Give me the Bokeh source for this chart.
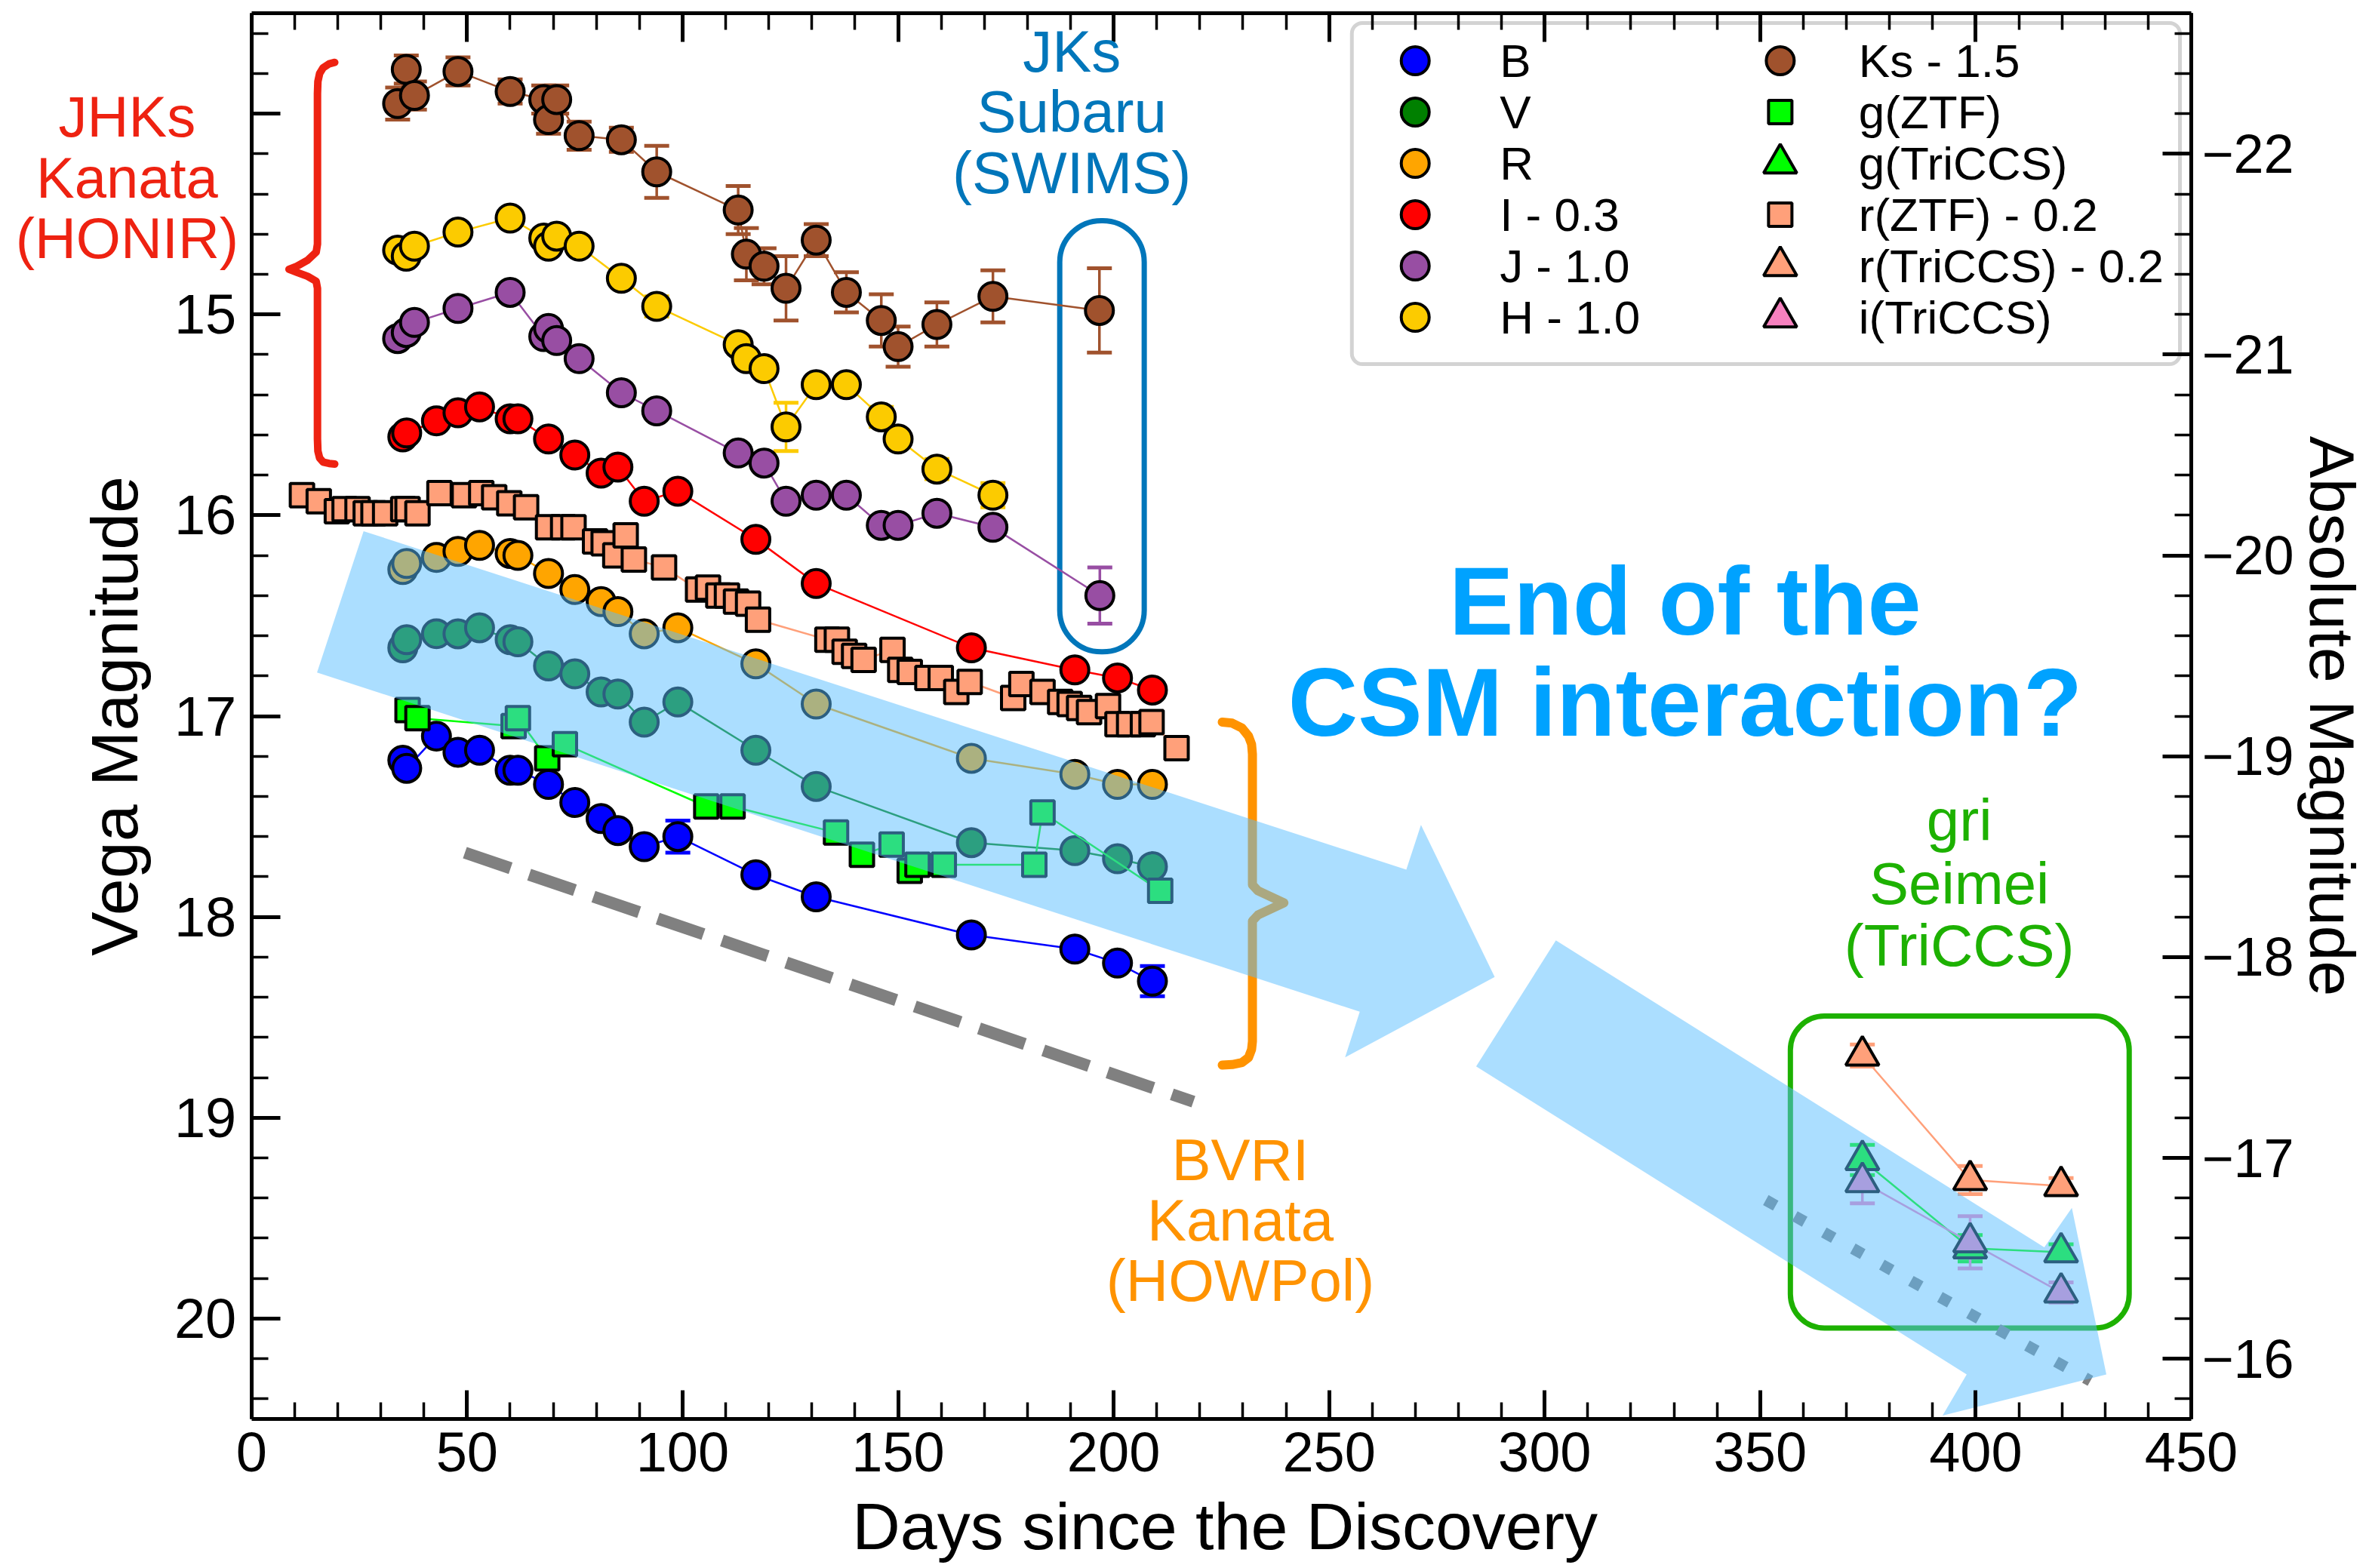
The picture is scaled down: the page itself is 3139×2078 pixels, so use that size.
import math
from bokeh.plotting import figure
from bokeh.models import (Range1d, LinearAxis, FixedTicker, Whisker, TeeHead, ColumnDataSource,
                          BoxAnnotation, Label)
from bokeh.embed import file_html
from bokeh.resources import INLINE

FONT = "Liberation Sans"
DIST_MOD = 36.2

X_TICKS = [0, 50, 100, 150, 200, 250, 300, 350, 400, 450]
Y_TICKS = [14, 15, 16, 17, 18, 19, 20]
Y_TICK_LABELS = ["", "15", "16", "17", "18", "19", "20"]
ABS_TICKS = [-22, -21, -20, -19, -18, -17, -16]
ABS_TICK_LABELS = ["\u221222", "\u221221", "\u221220", "\u221219", "\u221218", "\u221217", "\u221216"]

# ---- Kanata / HOWPol (BVRI) ----
opt_days = [35.1, 36.0, 42.9, 47.9, 52.9, 60.0, 61.8, 68.9, 75.0, 81.1, 85.0, 91.1, 98.9,
            117.0, 131.0, 167.0, 191.0, 200.9, 209.0]
B_mag = [17.22, 17.26, 17.10, 17.18, 17.17, 17.27, 17.27, 17.34, 17.43, 17.51, 17.57, 17.65, 17.60,
         17.79, 17.90, 18.09, 18.16, 18.23, 18.32]
B_err = [0.03, 0.03, 0.03, 0.03, 0.03, 0.03, 0.03, 0.03, 0.03, 0.03, 0.03, 0.03, 0.08,
         0.03, 0.03, 0.03, 0.03, 0.03, 0.075]
V_mag = [16.66, 16.62, 16.59, 16.59, 16.56, 16.62, 16.63, 16.75, 16.79, 16.88, 16.89, 17.03, 16.93,
         17.17, 17.35, 17.63, 17.67, 17.71, 17.75]
R_mag = [16.27, 16.24, 16.21, 16.18, 16.15, 16.19, 16.20, 16.29, 16.37, 16.43, 16.48, 16.59, 16.56,
         16.74, 16.94, 17.21, 17.29, 17.34, 17.34]
I_mag = [15.61, 15.59, 15.53, 15.49, 15.46, 15.52, 15.52, 15.62, 15.70, 15.79, 15.76, 15.93, 15.88,
         16.12, 16.34, 16.66, 16.77, 16.81, 16.87]

# ---- Kanata / HONIR + Subaru / SWIMS (JHKs) ----
J_days = [33.9, 35.9, 37.8, 47.9, 60.0, 67.8, 68.9, 70.8, 76.0, 85.8, 94.0, 112.9, 118.9,
          124.0, 131.0, 138.0, 146.1, 150.0, 159.0, 172.0, 196.8]
J_mag = [15.12, 15.09, 15.04, 14.97, 14.89, 15.11, 15.07, 15.13, 15.22, 15.39, 15.48, 15.69, 15.74,
         15.93, 15.90, 15.90, 16.05, 16.05, 15.99, 16.06, 16.40]
J_err = [0.03, 0.03, 0.03, 0.03, 0.03, 0.03, 0.03, 0.03, 0.03, 0.03, 0.03, 0.03, 0.03,
         0.03, 0.03, 0.03, 0.03, 0.03, 0.03, 0.03, 0.14]
H_days = [33.9, 35.9, 37.8, 47.9, 60.0, 67.8, 68.9, 70.8, 76.0, 85.8, 94.0, 112.9, 114.8, 118.9,
          124.0, 131.0, 138.0, 146.1, 150.0, 159.0, 172.0]
H_mag = [14.68, 14.71, 14.66, 14.59, 14.52, 14.62, 14.66, 14.61, 14.66, 14.82, 14.96, 15.15, 15.22,
         15.27, 15.56, 15.35, 15.35, 15.51, 15.62, 15.77, 15.90]
H_err = [0.03, 0.03, 0.03, 0.03, 0.03, 0.03, 0.03, 0.03, 0.03, 0.03, 0.05, 0.03, 0.03, 0.03,
         0.12, 0.03, 0.03, 0.05, 0.03, 0.05, 0.06]
Ks_days = [33.9, 35.9, 37.8, 47.9, 60.0, 67.8, 68.9, 70.8, 76.0, 85.8, 94.0, 112.9, 114.8, 118.9,
           124.0, 131.0, 138.0, 146.1, 150.0, 159.0, 172.0, 196.7]
Ks_mag = [13.95, 13.78, 13.91, 13.79, 13.89, 13.93, 14.03, 13.93, 14.11, 14.13, 14.29, 14.48, 14.70,
          14.76, 14.87, 14.63, 14.89, 15.03, 15.16, 15.05, 14.91, 14.98]
Ks_err = [0.08, 0.07, 0.07, 0.07, 0.06, 0.07, 0.07, 0.07, 0.07, 0.06, 0.13, 0.12, 0.13, 0.09,
          0.16, 0.08, 0.10, 0.13, 0.10, 0.11, 0.13, 0.21]

# ---- ZTF ----
gZ_days = [36.2, 38.5, 60.8, 61.8, 68.6, 72.7, 105.5, 111.6, 135.6, 141.6, 148.5, 152.7, 154.5,
           160.6, 181.6, 183.5, 210.8]
gZ_mag = [16.97, 17.01, 17.05, 17.01, 17.21, 17.14, 17.45, 17.45, 17.58, 17.69, 17.64, 17.77, 17.74,
          17.74, 17.74, 17.48, 17.87]
rZ_days = [11.7, 15.6, 19.8, 21.6, 24.6, 26.5, 28.3, 31.0, 35.2, 36.2, 38.5, 43.6, 49.3, 53.3, 56.3,
           59.8, 63.7, 68.8, 72.3, 74.7, 79.7, 81.7, 84.4, 86.8, 88.7, 95.7, 103.6, 105.9, 108.3,
           110.3, 112.4, 115.2, 117.5, 133.6, 135.8, 137.6, 139.8, 142.0, 148.7, 150.5, 152.7,
           156.8, 159.9, 163.5, 166.6, 176.7, 178.6, 183.5, 187.6, 189.8, 192.0, 194.3, 198.7,
           200.9, 203.6, 206.8, 208.8, 214.6]
rZ_mag = [15.90, 15.93, 15.98, 15.97, 15.97, 15.99, 15.99, 15.99, 15.97, 15.97, 15.99, 15.89, 15.90,
          15.89, 15.91, 15.94, 15.96, 16.06, 16.06, 16.06, 16.13, 16.14, 16.20, 16.10, 16.22, 16.26,
          16.37, 16.36, 16.40, 16.40, 16.43, 16.44, 16.52, 16.62, 16.62, 16.68, 16.70, 16.72, 16.67,
          16.77, 16.78, 16.81, 16.81, 16.88, 16.83, 16.91, 16.84, 16.88, 16.93, 16.94, 16.96, 16.98,
          16.95, 17.04, 17.04, 17.04, 17.03, 17.16]

# ---- Seimei / TriCCS ----
T_days = [373.7, 398.7, 419.8]
gT_mag = [19.21, 19.65, 19.67]
gT_err = [0.075, 0.066, 0.04]
rT_mag = [18.69, 19.31, 19.34]
rT_err = [0.055, 0.07, 0.04]
iT_mag = [19.32, 19.62, 19.87]
iT_err = [0.106, 0.13, 0.05]

# ---- legend entries ----
LEG_COL1 = ["B", "V", "R", "I - 0.3", "J - 1.0", "H - 1.0"]
LEG_COL2 = ["Ks - 1.5", "g(ZTF)", "g(TriCCS)", "r(ZTF) - 0.2", "r(TriCCS) - 0.2", "i(TriCCS)"]

# ---- red instrument caption (left of the magnitude axis) ----
CAP_LINES = ["JHKs", "Kanata", "(HONIR)"]
CAP_Y_PX = [154, 235, 315]

# ---- decorations (annotation shapes, in data coordinates) ----
arrow1_x = [26.0, 267.9, 271.3, 288.4, 253.7, 257.1, 15.2]
arrow1_y = [16.079, 17.765, 17.542, 18.299, 18.699, 18.472, 16.783]
arrow2_x = [302.6, 415.9, 422.3, 430.3, 392.3, 397.9, 284.1]
arrow2_y = [18.117, 19.645, 19.449, 20.278, 20.483, 20.278, 18.744]
dash_x = [49.5, 218.5]
dash_y = [17.68, 18.92]
dot_x = [351.3, 426.6]
dot_y = [19.41, 20.31]
red_brace_x = [19.3, 18.0, 16.6, 15.8, 15.4, 15.3, 15.3, 15.0, 13.0, 10.5, 8.7, 10.5, 13.0, 15.0,
               15.3, 15.3, 15.4, 15.8, 16.6, 18.0, 19.3]
red_brace_y = [13.745, 13.752, 13.772, 13.800, 13.840, 13.900, 14.650, 14.690, 14.730, 14.760,
               14.775, 14.790, 14.810, 14.835, 14.870, 15.620, 15.680, 15.715, 15.735, 15.742, 15.745]
org_brace_x = [225.2, 227.5, 229.8, 231.3, 232.0, 232.2, 232.2, 233.5, 236.5, 239.5, 236.5, 233.5,
               232.2, 232.2, 232.0, 231.3, 229.8, 227.5, 225.2]
org_brace_y = [17.03, 17.035, 17.06, 17.10, 17.14, 17.19, 17.84, 17.87, 17.90, 17.93, 17.96, 17.99,
               18.02, 18.62, 18.66, 18.70, 18.725, 18.735, 18.738]

C_B, C_V, C_R, C_I = "#0000FF", "#008000", "#FFA500", "#FF0000"
C_J, C_H, C_K = "#984EA3", "#FCCB00", "#A0522D"
C_G, C_r, C_i = "#00FF00", "#FFA07A", "#F781BF"

W, H = 3139, 2078
# page-pixel geometry of the day-0..450 box; the frame itself starts at the page's left edge
# so that the caption left of the magnitude axis can be drawn inside it
FR_L, FR_R, FR_T, FR_B = 333, 2905, 17, 1880
X_START = -FR_L / (FR_R - FR_L) * 450.0


def px_day(X):
    return (X - FR_L) / (FR_R - FR_L) * 450.0


def px_mag(Y):
    return 13.5 + (Y - FR_T) / (FR_B - FR_T) * 7.0


p = figure(width=W, height=H, x_range=Range1d(X_START, 450), y_range=Range1d(20.5, 13.5),
           output_backend="svg", toolbar_location=None,
           min_border_left=0, min_border_right=W - FR_R, min_border_top=FR_T,
           min_border_bottom=H - FR_B)
p.extra_y_ranges = {"abs": Range1d(20.5 - DIST_MOD, 13.5 - DIST_MOD)}
p.xgrid.visible = False
p.ygrid.visible = False
p.outline_line_color = None
p.background_fill_color = "white"
p.border_fill_color = "white"

x_minor = [v for v in range(0, 451, 10)]
y_minor = [13.4 + 0.2 * k for k in range(38)]
abs_minor = [-22.8 + 0.2 * k for k in range(38)]


def style(ax, label_size="74px", title_size="88px"):
    ax.axis_line_width = 5
    ax.major_tick_in = 38
    ax.major_tick_out = 0
    ax.minor_tick_in = 22
    ax.minor_tick_out = 0
    ax.major_tick_line_width = 5
    ax.minor_tick_line_width = 3.5
    ax.major_label_text_font = FONT
    ax.major_label_text_font_size = label_size
    ax.major_label_text_color = "black"
    ax.axis_label_text_font = FONT
    ax.axis_label_text_font_size = title_size
    ax.axis_label_text_font_style = "normal"
    ax.axis_label_text_color = "black"


xax = p.xaxis[0]
style(xax)
xax.ticker = FixedTicker(ticks=X_TICKS, minor_ticks=x_minor)
xax.bounds = (0, 450)
# the title is centred on the whole (widened) frame: lead it with no-break spaces so that
# the visible words sit centred under the 0..450 day axis
xax.axis_label = "\u00a0" * 14 + "Days since the Discovery"
xax.major_label_standoff = 18
xax.axis_label_standoff = 20

yax = p.yaxis[0]
style(yax)
yax.ticker = FixedTicker(ticks=Y_TICKS, minor_ticks=y_minor)
yax.major_label_overrides = {t: s for t, s in zip(Y_TICKS, Y_TICK_LABELS)}
yax.axis_label = "Vega Magnitude"
yax.major_label_standoff = 20
yax.axis_label_standoff = 27
yax.fixed_location = 0

top = LinearAxis(ticker=FixedTicker(ticks=X_TICKS, minor_ticks=x_minor), bounds=(0, 450))
style(top, "1px")
top.major_label_overrides = {t: "" for t in X_TICKS}
top.major_label_standoff = 0
p.add_layout(top, "above")

right = LinearAxis(y_range_name="abs", ticker=FixedTicker(ticks=ABS_TICKS, minor_ticks=abs_minor),
                   axis_label="Absolute Magnitude")
style(right, "72px", "84px")
right.major_label_overrides = {t: s for t, s in zip(ABS_TICKS, ABS_TICK_LABELS)}
right.major_label_standoff = 14
right.axis_label_standoff = 0
p.add_layout(right, "right")

# rounded boxes (behind glyphs)
p.add_layout(BoxAnnotation(left=187.5, right=207.1, top=14.533, bottom=16.68, border_radius=55,
                           fill_alpha=0, line_color="#0076BA", line_alpha=1, line_width=7,
                           level="underlay"))
p.add_layout(BoxAnnotation(left=357.0, right=435.6, top=18.494, bottom=20.047, border_radius=45,
                           fill_alpha=0, line_color="#1DB100", line_alpha=1, line_width=7,
                           level="underlay"))

# dotted guide line (under arrow)
p.line(dot_x, dot_y, line_color="#808080", line_width=15, line_dash="15 29")


def whisk(days, mags, errs, color):
    src = ColumnDataSource(dict(x=days, lo=[m - e for m, e in zip(mags, errs)],
                                hi=[m + e for m, e in zip(mags, errs)]))
    p.add_layout(Whisker(source=src, base="x", lower="lo", upper="hi", dimension="height",
                         line_color=color, line_width=3.5,
                         lower_head=TeeHead(size=33, line_color=color, line_width=5),
                         upper_head=TeeHead(size=33, line_color=color, line_width=5)))


MK = {"circle": 37, "square": 31, "triangle": 44}


def series(days, mags, color, marker="circle", errs=None):
    if errs is not None:
        whisk(days, mags, errs, color)
    p.line(days, mags, line_color=color, line_width=2.5)
    return p.scatter(days, mags, marker=marker, size=MK[marker], fill_color=color,
                     line_color="black", line_width=4)


series(opt_days, B_mag, C_B, errs=B_err)
series(opt_days, V_mag, C_V)
series(opt_days, R_mag, C_R)
series(opt_days, I_mag, C_I)
series(J_days, J_mag, C_J, errs=J_err)
series(H_days, H_mag, C_H, errs=H_err)
series(Ks_days, Ks_mag, C_K, errs=Ks_err)
series(gZ_days, gZ_mag, C_G, marker="square")
series(T_days, gT_mag, C_G, marker="triangle", errs=gT_err)
series(rZ_days, rZ_mag, C_r, marker="square")
series(T_days, rT_mag, C_r, marker="triangle", errs=rT_err)
series(T_days, iT_mag, C_i, marker="triangle", errs=iT_err)

# braces
p.line(red_brace_x, red_brace_y, line_color="#EE2211", line_width=10, line_cap="round",
       line_join="round")
p.line(org_brace_x, org_brace_y, line_color="#FF9300", line_width=12, line_cap="round",
       line_join="round")

# big translucent arrows on top of data
p.patch(arrow1_x, arrow1_y, fill_color="#57BDFF", fill_alpha=0.5, line_alpha=0)
p.patch(arrow2_x, arrow2_y, fill_color="#57BDFF", fill_alpha=0.5, line_alpha=0)

# dashed guide line
p.line(dash_x, dash_y, line_color="#808080", line_width=16, line_dash="64 26")

# ---- legend (two columns inside a rounded, light-grey frame) ----
p.quad(left=[px_day(1792)], right=[px_day(2890)], top=[px_mag(30)], bottom=[px_mag(482)],
       border_radius=14, fill_color="white", fill_alpha=0.85, line_color="#d3d3d3", line_width=5)
row_y = [px_mag(Y) for Y in (80, 148, 216, 284, 352, 420)]
col1 = [(C_B, "circle"), (C_V, "circle"), (C_R, "circle"), (C_I, "circle"), (C_J, "circle"),
        (C_H, "circle")]
col2 = [(C_K, "circle"), (C_G, "square"), (C_G, "triangle"), (C_r, "square"), (C_r, "triangle"),
        (C_i, "triangle")]
for (col, names, mx, tx) in ((col1, LEG_COL1, 1876, 1988), (col2, LEG_COL2, 2360, 2464)):
    for (c, mk), name, yy in zip(col, names, row_y):
        p.scatter([px_day(mx)], [yy], marker=mk, size=MK[mk], fill_color=c, line_color="black",
                  line_width=4)
        p.add_layout(Label(x=px_day(tx), y=yy, text=name, text_font=FONT, text_font_size="62px",
                           text_color="black", text_align="left", text_baseline="middle"))


# ---- text annotations (y = vertical centre of the text) ----
def lab(x, Y, text, color, size="78px", style="normal"):
    p.add_layout(Label(x=x, y=px_mag(Y), text=text, text_color=color, text_font=FONT,
                       text_font_size=size, text_font_style=style, text_align="center",
                       text_baseline="middle"))


for t, Y in zip(CAP_LINES, CAP_Y_PX):
    lab(px_day(168), Y, t, "#EE2211", size="76px")
for t, Y in zip(["JKs", "Subaru", "(SWIMS)"], [67, 147.5, 228.5]):
    lab(190.3, Y, t, "#0076BA")
for t, Y in zip(["gri", "Seimei", "(TriCCS)"], [1086, 1170, 1252]):
    lab(396.2, Y, t, "#1DB100")
for t, Y in zip(["BVRI", "Kanata", "(HOWPol)"], [1536, 1616, 1696]):
    lab(229.4, Y, t, "#FF9300")
for t, Y in zip(["End of the", "CSM interaction?"], [796, 930]):
    lab(332.6, Y, t, "#00A2FF", size="128px", style="bold")

open("out.html", "w").write(file_html(p, INLINE))
